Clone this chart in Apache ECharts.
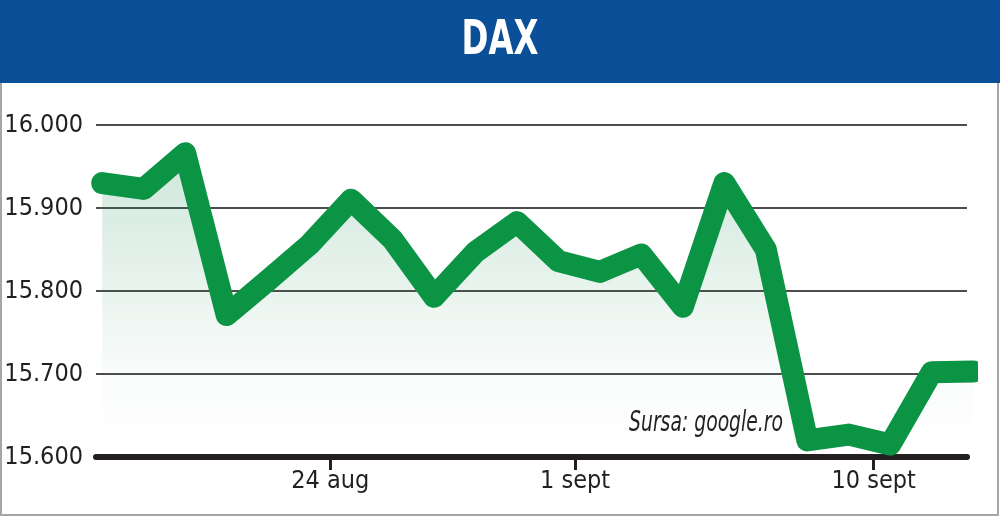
<!DOCTYPE html>
<html>
<head>
<meta charset="utf-8">
<script src="https://cdn.jsdelivr.net/npm/echarts@6/dist/echarts.min.js"></script>
<style>
html,body{margin:0;padding:0;background:#fff;}
#chart{width:1000px;height:517px;}
</style>
</head>
<body>
<div id="chart"></div>
<script>
// DAX daily closes (16 aug – 14 sept)
const values = [15930, 15923, 15966, 15771, 15813, 15856, 15910, 15862, 15793, 15847, 15883,
                15836, 15823, 15844, 15781, 15930, 15850, 15620, 15627, 15615, 15702, 15703];
const tickLabels = ['24 aug', '1 sept', '10 sept'];
const tickAt = [5.5, 11.4, 18.6];
const yTicks = [15600, 15700, 15800, 15900, 16000];
const titleText = 'DAX';
const sourceText = 'Sursa: google.ro';

const FONT = "'DejaVu Sans Condensed', 'Liberation Sans Narrow', sans-serif";
const chart = echarts.init(document.getElementById('chart'), null, {renderer: 'canvas'});

const seriesData = values.map((v, i) => [i, v]);

chart.setOption({
  animation: false,
  backgroundColor: '#ffffff',
  graphic: [
    {type: 'rect', z: -10, shape: {x: 1, y: 1, width: 997, height: 514},
     style: {fill: 'none', stroke: '#a6a6a6', lineWidth: 2}},
    {type: 'rect', z: 5, shape: {x: 0, y: 0, width: 1000, height: 83},
     style: {fill: '#0a4f98'}},
    {type: 'text', z: 30, x: 500, y: 42, scaleX: 0.75,
     style: {text: titleText, fill: '#ffffff', fontSize: 48, fontWeight: 'bold',
             fontFamily: FONT, align: 'center', verticalAlign: 'middle'}},
    {type: 'text', z: 30, x: 783, y: 423, scaleX: 0.72,
     style: {text: sourceText, fill: '#231f20', fontSize: 29, fontStyle: 'italic',
             fontFamily: FONT, align: 'right', verticalAlign: 'middle'}}
  ],
  grid: {left: 96, right: 33, top: 125, bottom: 60, containLabel: false},
  xAxis: {
    type: 'value',
    min: -0.15,
    max: 20.85,
    splitLine: {show: false},
    axisLine: {show: true, onZero: false, lineStyle: {color: '#231f20', width: 6}},
    axisTick: {show: true, customValues: tickAt, length: 13,
               lineStyle: {color: '#231f20', width: 3}},
    axisLabel: {
      show: true, customValues: tickAt, margin: 12,
      color: '#231f20', fontSize: 25, fontFamily: FONT,
      formatter: (v) => {
        const k = tickAt.findIndex(t => Math.abs(t - v) < 1e-6);
        return k >= 0 ? tickLabels[k] : '';
      }
    }
  },
  yAxis: {
    type: 'value',
    min: yTicks[0],
    max: yTicks[yTicks.length - 1],
    interval: 100,
    axisLine: {show: false},
    axisTick: {show: false},
    splitLine: {show: true, lineStyle: {color: '#4d4d4d', width: 2}},
    axisLabel: {
      color: '#231f20', fontSize: 25, fontFamily: FONT, margin: 13,
      formatter: (v) => (v / 1000).toFixed(3)
    }
  },
  series: [{
    type: 'line',
    data: seriesData,
    symbol: 'none',
    smooth: false,
    z: 3,
    lineStyle: {color: '#0b9444', width: 22, cap: 'round', join: 'round'},
    areaStyle: {
      origin: 'start',
      color: new echarts.graphic.LinearGradient(0, 0, 0, 1, [
        {offset: 0, color: 'rgba(30,140,85,0.3)'},
        {offset: 0.75, color: 'rgba(30,140,85,0.03)'},
        {offset: 1, color: 'rgba(30,140,85,0)'}
      ])
    }
  }]
});
</script>
</body>
</html>
